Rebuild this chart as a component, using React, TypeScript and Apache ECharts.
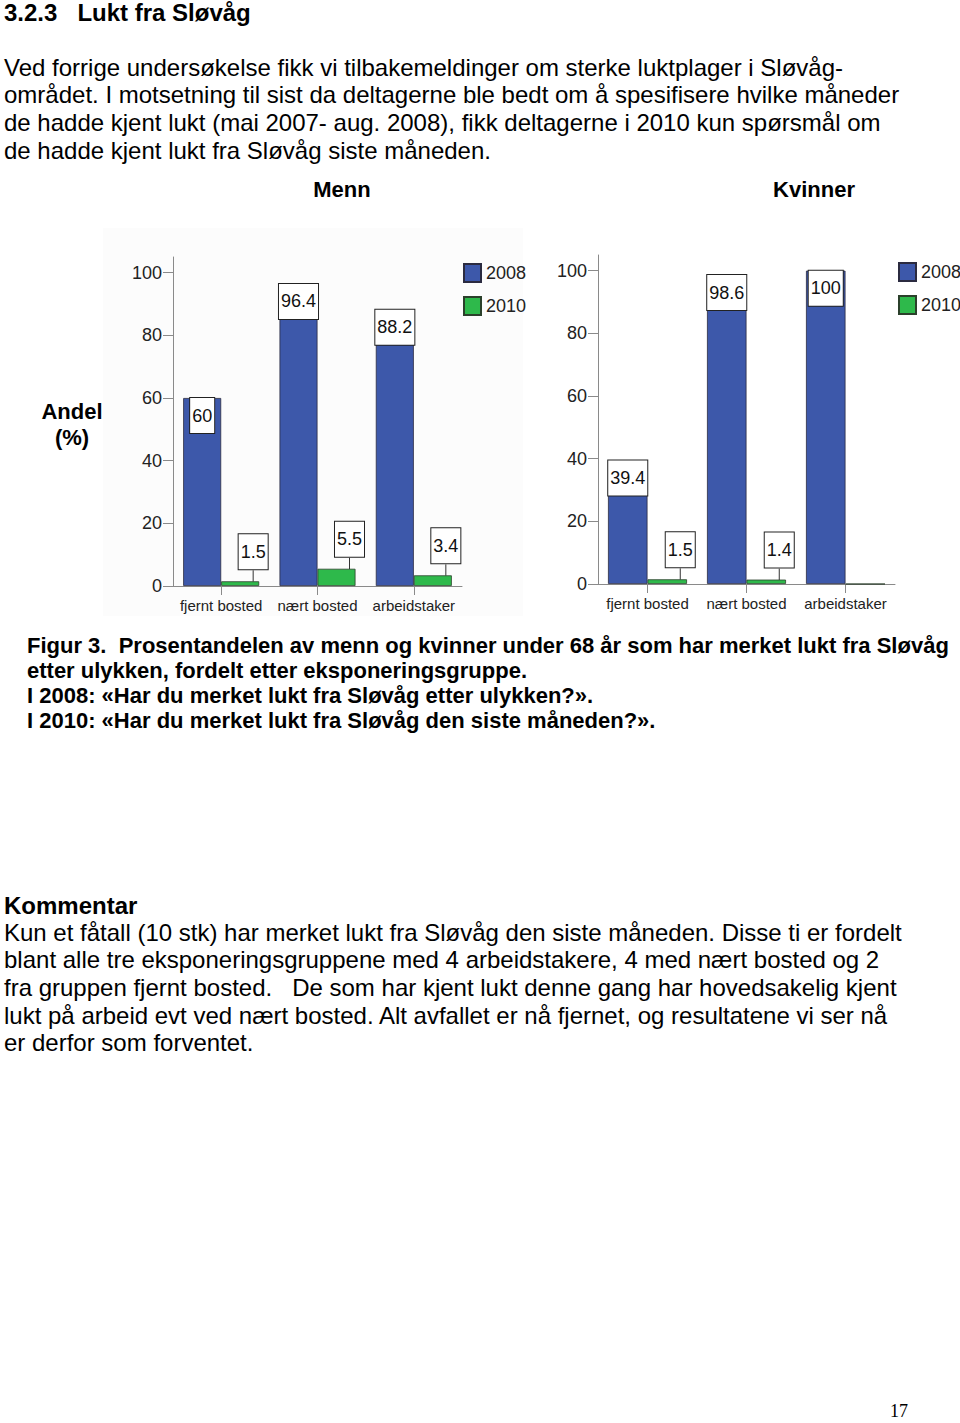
import React, { useEffect, useRef } from "react";
import * as echarts from "echarts";

const categories = ["fjernt bosted", "nært bosted", "arbeidstaker"];
const menn2008 = [60, 96.4, 88.2];
const menn2010 = [1.5, 5.5, 3.4];
const kvinner2008 = [39.4, 98.6, 100];
const kvinner2010 = [1.5, 1.4, 0];
const yTicks = [0, 20, 40, 60, 80, 100];
const seriesNames = ["2008", "2010"];

const heading = "3.2.3   Lukt fra Sløvåg";
const introLines = [
  "Ved forrige undersøkelse fikk vi tilbakemeldinger om sterke luktplager i Sløvåg-",
  "området. I motsetning til sist da deltagerne ble bedt om å spesifisere hvilke måneder",
  "de hadde kjent lukt (mai 2007- aug. 2008), fikk deltagerne i 2010 kun spørsmål om",
  "de hadde kjent lukt fra Sløvåg siste måneden.",
];
const captionLines = [
  "Figur 3.  Prosentandelen av menn og kvinner under 68 år som har merket lukt fra Sløvåg",
  "etter ulykken, fordelt etter eksponeringsgruppe.",
  "I 2008: «Har du merket lukt fra Sløvåg etter ulykken?».",
  "I 2010: «Har du merket lukt fra Sløvåg den siste måneden?».",
];
const commentTitle = "Kommentar";
const commentLines = [
  "Kun et fåtall (10 stk) har merket lukt fra Sløvåg den siste måneden. Disse ti er fordelt",
  "blant alle tre eksponeringsgruppene med 4 arbeidstakere, 4 med nært bosted og 2",
  "fra gruppen fjernt bosted.   De som har kjent lukt denne gang har hovedsakelig kjent",
  "lukt på arbeid evt ved nært bosted. Alt avfallet er nå fjernet, og resultatene vi ser nå",
  "er derfor som forventet.",
];

const FONT = "'Liberation Sans', Arial, sans-serif";
const BLUE = "#3D58AA";
const GREEN = "#2EB94B";
const AXIS = "#8a8a8a";

function App() {
  const ref = useRef<HTMLDivElement>(null);

  useEffect(() => {
    if (!ref.current) return;
    const chart = echarts.init(ref.current, null, { renderer: "svg" });

    const txt = (text: string, x: number, y: number, size: number, bold = false, align = "left", family = FONT) => ({
      type: "text",
      x,
      y,
      silent: true,
      style: {
        text,
        fontSize: size,
        fontWeight: bold ? "bold" : "normal",
        fontFamily: family,
        fill: "#000",
        align,
        verticalAlign: "middle",
      },
    });

    const graphics: any[] = [];
    graphics.push({
      type: "rect",
      z: -10,
      silent: true,
      shape: { x: 103, y: 228, width: 420, height: 388 },
      style: { fill: "#fcfcfc" },
    });
    graphics.push(txt(heading, 4, 12, 24, true));
    introLines.forEach((l, i) => graphics.push(txt(l, 4, 67 + i * 27.7, 24)));
    graphics.push(txt("Menn", 342, 189, 22, true, "center"));
    graphics.push(txt("Kvinner", 814, 189, 22, true, "center"));
    graphics.push(txt("Andel", 72, 411, 22, true, "center"));
    graphics.push(txt("(%)", 72, 437, 22, true, "center"));
    captionLines.forEach((l, i) => graphics.push(txt(l, 27, 645 + i * 25, 22, true)));
    graphics.push(txt(commentTitle, 4, 905, 24, true));
    commentLines.forEach((l, i) => graphics.push(txt(l, 4, 932 + i * 27.7, 24)));
    graphics.push(txt("17", 899, 1411, 18, false, "center", "'Liberation Serif', 'Times New Roman', serif"));

    const boxLabel = {
      show: true,
      backgroundColor: "#fff",
      borderColor: "#222",
      borderWidth: 1,
      padding: [8, 2],
      fontSize: 18,
      lineHeight: 19,
      color: "#111",
      fontFamily: FONT,
    };

    const xAxisBase = (gridIndex: number) => ({
      type: "category",
      gridIndex,
      data: categories,
      axisLine: { show: true, lineStyle: { color: AXIS, width: 1 } },
      axisTick: { show: true, alignWithLabel: true, length: 9, lineStyle: { color: AXIS } },
      axisLabel: { fontSize: 15, color: "#222", margin: 12, interval: 0, fontFamily: FONT },
      splitLine: { show: false },
    });
    const yAxisBase = (gridIndex: number) => ({
      type: "value",
      gridIndex,
      min: 0,
      max: 105,
      interval: 20,
      axisLine: { show: true, lineStyle: { color: AXIS, width: 1 } },
      axisTick: { show: true, length: 10, customValues: yTicks, lineStyle: { color: AXIS } },
      axisLabel: { fontSize: 18, color: "#222", margin: 11, customValues: yTicks, fontFamily: FONT },
      splitLine: { show: false },
    });

    const make2008 = (data: number[], idx: number, bw: number) => ({
      name: seriesNames[0],
      type: "bar",
      xAxisIndex: idx,
      yAxisIndex: idx,
      data,
      barWidth: bw,
      barGap: "0%",
      itemStyle: { color: BLUE, borderColor: "#2b2b40", borderWidth: 0.8 },
      label: { ...boxLabel, position: "insideTop", distance: 0 },
    });
    const make2010 = (data: number[], idx: number, bw: number) => ({
      name: seriesNames[1],
      type: "bar",
      xAxisIndex: idx,
      yAxisIndex: idx,
      data: data.map((v) => (v > 0 ? v : { value: v, label: { show: false }, labelLine: { show: false } })),
      barWidth: bw,
      barGap: "0%",
      itemStyle: { color: GREEN, borderColor: "#2b402b", borderWidth: 0.8 },
      label: { ...boxLabel, position: "top", distance: 0 },
      labelLayout: { dx: 13, dy: -12 },
      labelLine: { show: true, lineStyle: { color: "#333", width: 1 } },
    });

    const legendBase = (left: number, top: number) => ({
      left,
      top,
      orient: "vertical",
      padding: 0,
      itemWidth: 17,
      itemHeight: 18,
      itemGap: 13,
      icon: "rect",
      data: seriesNames,
      textStyle: { fontSize: 18, color: "#222", fontFamily: FONT },
      selectedMode: false,
    });

    chart.setOption({
      animation: false,
      backgroundColor: "#fff",
      textStyle: { fontFamily: FONT },
      grid: [
        { left: 173, top: 257, width: 289, height: 329 },
        { left: 598, top: 255, width: 297, height: 329 },
      ],
      xAxis: [xAxisBase(0), xAxisBase(1)],
      yAxis: [yAxisBase(0), yAxisBase(1)],
      legend: [legendBase(463, 263), legendBase(898, 262)],
      series: [
        make2008(menn2008, 0, 38),
        make2010(menn2010, 0, 38),
        make2008(kvinner2008, 1, 39.5),
        make2010(kvinner2010, 1, 39.5),
      ],
      graphic: graphics,
    });

    return () => chart.dispose();
  }, []);

  return (
    <div
      ref={ref}
      style={{ position: "absolute", left: 0, top: 0, width: 960, height: 1423 }}
    />
  );
}

export default App;
